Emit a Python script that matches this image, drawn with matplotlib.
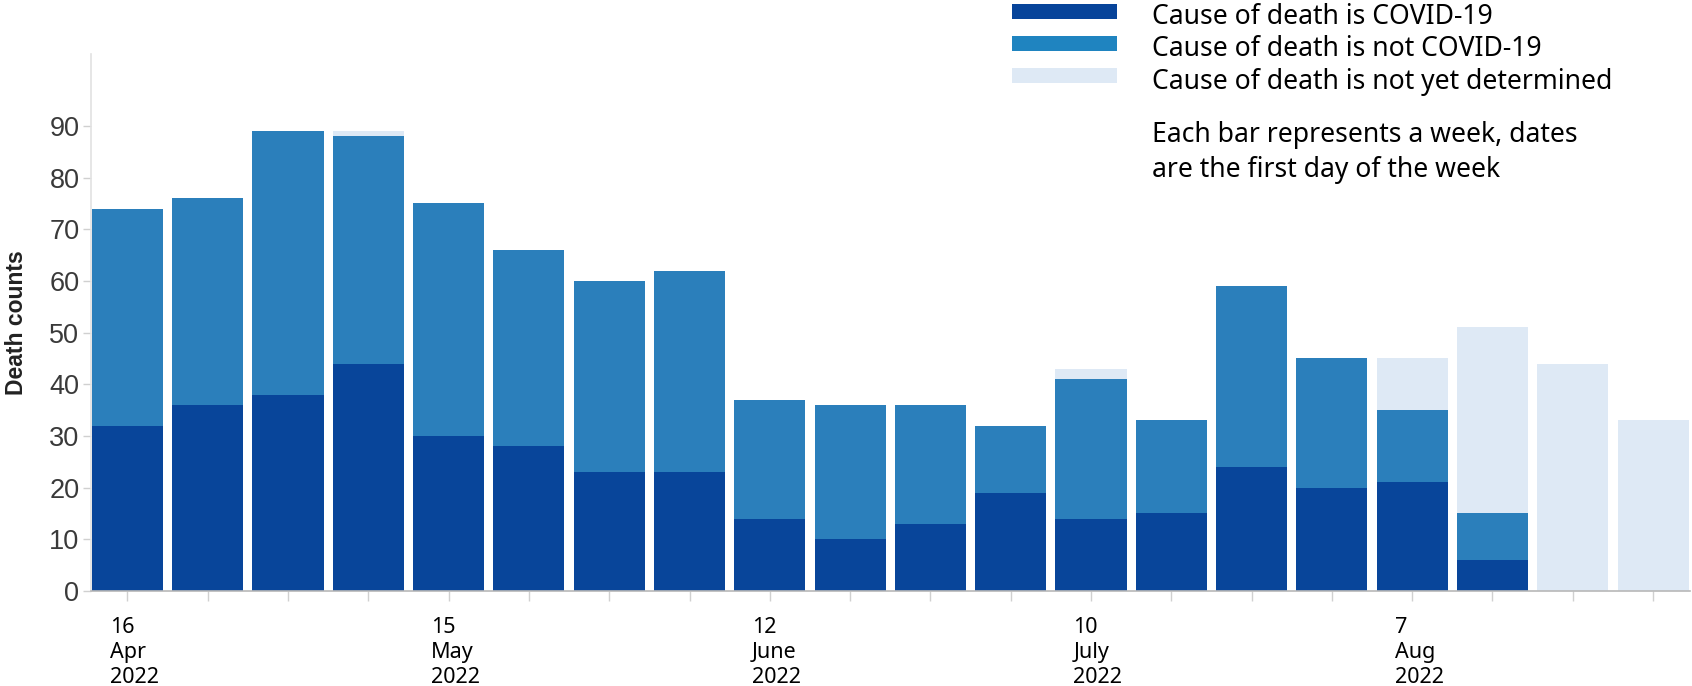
import matplotlib
matplotlib.use("Agg")
import matplotlib.pyplot as plt
from matplotlib.patches import Rectangle
import numpy as np

# ---- data ----
week_labels = ["16\nApr\n2022", "", "", "", "15\nMay\n2022", "", "", "",
               "12\nJune\n2022", "", "", "", "10\nJuly\n2022", "", "", "",
               "7\nAug\n2022", "", "", ""]
covid = [32, 36, 38, 44, 30, 28, 23, 23, 14, 10, 13, 19, 14, 15, 24, 20, 21, 6, 0, 0]
not_covid = [42, 40, 51, 44, 45, 38, 37, 39, 23, 26, 23, 13, 27, 18, 35, 25, 14, 9, 0, 0]
undetermined = [0, 0, 0, 1, 0, 0, 0, 0, 0, 0, 0, 0, 2, 0, 0, 0, 10, 36, 44, 33]
series_names = ["Cause of death is COVID-19", "Cause of death is not COVID-19",
                "Cause of death is not yet determined"]
note_text = "Each bar represents a week, dates\nare the first day of the week"
y_ticks = [0, 10, 20, 30, 40, 50, 60, 70, 80, 90]

# ---- style ----
C_DARK = "#08459a"
C_MED = "#2b7fbb"
C_LIGHT = "#dee9f5"
LEG_COLORS = ["#07449a", "#1f84c0", "#dee9f5"]

W, H = 1692, 686
fig = plt.figure(figsize=(W / 100, H / 100), dpi=100)
left_px, right_px, top_px, bot_px = 90.5, 1690, 54, 591
ax = fig.add_axes([left_px / W, (H - bot_px) / H, (right_px - left_px) / W, (bot_px - top_px) / H])

x = np.arange(len(covid))
covid_a = np.array(covid)
notc_a = np.array(not_covid)
und_a = np.array(undetermined)
bw = 0.885
ax.bar(x, covid_a, width=bw, color=C_DARK, linewidth=0)
ax.bar(x, notc_a, width=bw, bottom=covid_a, color=C_MED, linewidth=0)
ax.bar(x, und_a, width=bw, bottom=covid_a + notc_a, color=C_LIGHT, linewidth=0)

ax.set_xlim(-0.46, 19.46)
ax.set_ylim(0, 103.9)

for s in ["top", "right"]:
    ax.spines[s].set_visible(False)
ax.spines["left"].set_color("#e2e2e2")
ax.spines["left"].set_linewidth(1.2)
ax.spines["bottom"].set_color("#b8b8b8")
ax.spines["bottom"].set_linewidth(1.2)

ax.set_yticks(y_ticks)
ax.set_yticklabels([str(v) for v in y_ticks], fontsize=19.5, color="#3a3a3a",
                   family=["Liberation Sans", "DejaVu Sans"])
ax.tick_params(axis="y", length=6, width=1, color="#d0d0d0", pad=2)

ax.set_xticks(x)
ax.set_xticklabels([])
ax.tick_params(axis="x", length=7, width=1, color="#d0d0d0")
for xi, lab in zip(x, week_labels):
    if lab:
        ax.text(xi - 0.22, -0.048, lab, transform=ax.get_xaxis_transform(),
                ha="left", va="top", fontsize=15.5, linespacing=1.25,
                family=["Noto Sans", "DejaVu Sans"], color="black")

ax.set_ylabel("Death counts", fontsize=16.5, fontweight="bold", color="#222222",
              family=["Liberation Sans", "DejaVu Sans"])
ax.yaxis.set_label_coords(-0.039, 0.5)

# ---- legend (figure pixels) ----
patch_x0, patch_x1 = 1012, 1117
centers = [11, 43, 75]
leg_fs = 19.1
for c, name, yc in zip(LEG_COLORS, series_names, centers):
    fig.patches.append(Rectangle((patch_x0 / W, (H - yc - 7.5) / H),
                                 (patch_x1 - patch_x0) / W, 15 / H,
                                 transform=fig.transFigure, color=c, linewidth=0))
    fig.text(1152 / W, (H - yc - 13.5) / H, name, ha="left", va="baseline",
             fontsize=leg_fs, family=["Noto Sans", "DejaVu Sans"], color="black")
fig.text(1152 / W, (H - 176.5) / H, note_text, ha="left", va="baseline",
         fontsize=leg_fs, linespacing=1.3, family=["Noto Sans", "DejaVu Sans"], color="black")

fig.savefig("out.png", dpi=100)
